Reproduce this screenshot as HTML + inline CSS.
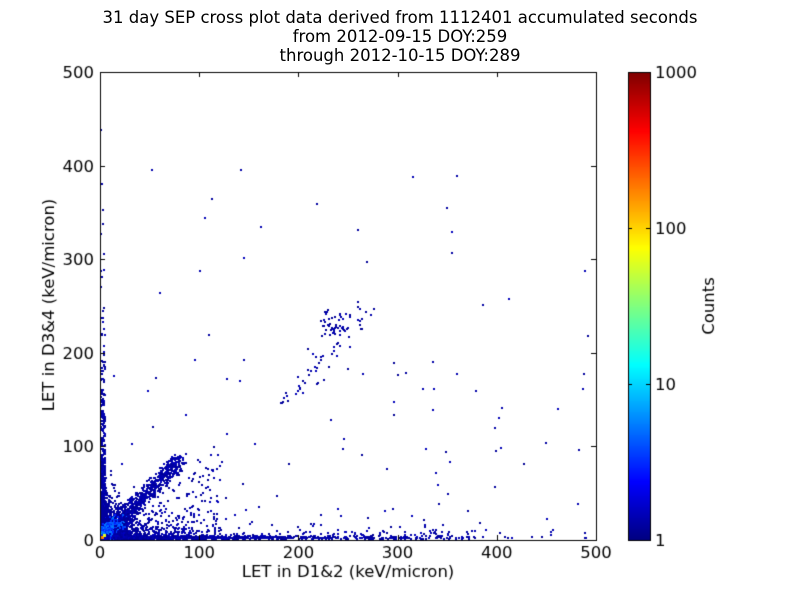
<!DOCTYPE html>
<html><head><meta charset="utf-8"><style>
body{margin:0;background:#fff;width:800px;height:600px;overflow:hidden;font-family:"DejaVu Sans",sans-serif}
.t{position:absolute;font-size:16.5px;color:#000;white-space:nowrap}
</style></head><body>
<div style="position:relative;width:800px;height:600px">
<div class="t" style="left:0;width:800px;text-align:center;top:8px;line-height:19px">31 day SEP cross plot data derived from 1112401 accumulated seconds<br>from 2012-09-15 DOY:259<br>through 2012-10-15 DOY:289</div>
<canvas id="c" width="800" height="600" style="position:absolute;left:0;top:0"></canvas>
</div>
<script>
const c=document.getElementById('c'),g=c.getContext('2d');
const X0=100,X1=596,Y0=72,Y1=540;
function jet(v){function f(x){return Math.max(0,Math.min(1,x));}
let r=f(1.5-Math.abs(4*v-3)),gg=f(1.5-Math.abs(4*v-2)),b=f(1.5-Math.abs(4*v-1));
return 'rgb('+Math.round(r*255)+','+Math.round(gg*255)+','+Math.round(b*255)+')';}
let s=12345;function R(){s=(s*1103515245+12345)%2147483648;return s/2147483648;}
function px(x){return X0+x*(X1-X0)/500;}function py(y){return Y1-y*(Y1-Y0)/500;}
function pt(x,y,v){if(x<0||y<0||x>500||y>500)return;g.fillStyle=jet(v);g.fillRect(Math.round(px(x)),Math.round(py(y))-2,2,2);}
function lo(){return 0.02+R()*0.04;}
for(let i=0;i<120;i++)pt(R()*500,R()*500*R(),lo());
for(let i=0;i<700;i++){let y=-Math.log(R())*60;pt(R()*4,y,y<30?0.1+R()*0.15:lo());}
for(let i=0;i<900;i++){let x=-Math.log(R())*90;pt(x,R()*3,x<30?0.1+R()*0.15:lo());}
for(let i=0;i<2000;i++){let x=-Math.log(R())*10,y=-Math.log(R())*10;let d=Math.sqrt(x*x+y*y);pt(x,y,Math.max(0.03,0.45-d/35+R()*0.08));}
for(let i=0;i<900;i++){let t=Math.pow(R(),1.4)*85;let y=t*1.0+(R()-0.5)*14,x=t*0.95+(R()-0.5)*14;pt(x,y,t<20?0.15+R()*0.1:lo());}
for(let i=0;i<450;i++){let x=R()*120,y=R()*x*1.2*R();pt(x,y,lo());}
for(let i=0;i<60;i++){let t=R()*90+180;pt(t+(R()-0.5)*20,(t-180)*1.2+140+(R()-0.5)*40*R(),lo());}
for(let i=0;i<40;i++)pt(222+R()*30,215+R()*30,lo());
for(let i=0;i<220;i++)pt(120+R()*260,R()*30*R()*R(),lo());
g.fillStyle=jet(0.75);g.fillRect(101,536,3,3);g.fillStyle=jet(0.6);g.fillRect(103,534,3,3);
g.strokeStyle='#000';g.lineWidth=1;g.strokeRect(X0+0.5,Y0+0.5,X1-X0,Y1-Y0);
g.fillStyle='#000';g.font='16.5px "DejaVu Sans",sans-serif';
for(let i=0;i<=5;i++){let x=Math.round(px(i*100))+0.5,y=Math.round(py(i*100))+0.5;
g.beginPath();g.moveTo(x,Y1);g.lineTo(x,Y1-5);g.moveTo(x,Y0);g.lineTo(x,Y0+5);
g.moveTo(X0,y);g.lineTo(X0+5,y);g.moveTo(X1,y);g.lineTo(X1-5,y);g.stroke();
g.textAlign='center';g.fillText(i*100,px(i*100),558);g.textAlign='right';g.fillText(i*100,94,py(i*100)+6);}
g.textAlign='center';g.fillText('LET in D1&2 (keV/micron)',348,577);
g.save();g.translate(54,305);g.rotate(-Math.PI/2);g.fillText('LET in D3&4 (keV/micron)',0,0);g.restore();
for(let y=72;y<540;y++){g.fillStyle=jet((540-y)/468);g.fillRect(628,y,22,1);}
g.strokeStyle='#000';g.strokeRect(628.5,72.5,22,468);
g.fillStyle='#000';g.textAlign='left';
[[1,540],[10,384],[100,228],[1000,72]].forEach(a=>{let y=a[1]+0.5;g.beginPath();g.moveTo(628,y);g.lineTo(632,y);g.moveTo(650,y);g.lineTo(646,y);g.stroke();g.fillText(a[0],655,a[1]+6);});
g.save();g.translate(714,306);g.rotate(-Math.PI/2);g.textAlign='center';g.fillText('Counts',0,0);g.restore();
</script>
</body></html>
